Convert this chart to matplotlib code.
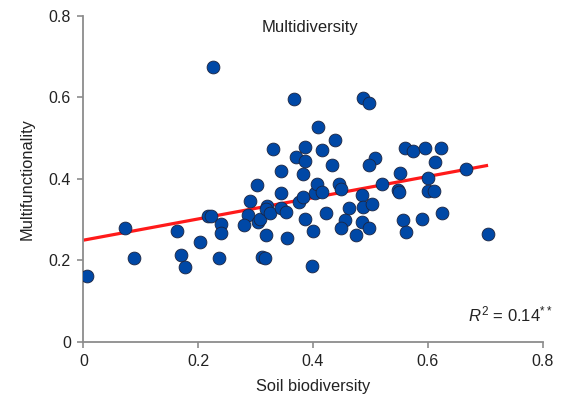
import matplotlib
matplotlib.use('Agg')
import matplotlib.pyplot as plt
import numpy as np

plt.rcParams['font.family'] = ['Liberation Sans', 'DejaVu Sans']
plt.rcParams['mathtext.fontset'] = 'custom'
plt.rcParams['mathtext.rm'] = 'Liberation Sans'
plt.rcParams['mathtext.it'] = 'Liberation Sans:italic'

# Soil biodiversity vs multifunctionality
soil_biodiversity = [
    0.006, 0.073, 0.089, 0.164, 0.170, 0.177, 0.203, 0.217, 0.222, 0.226,
    0.240, 0.239, 0.236, 0.302, 0.290, 0.287, 0.280, 0.304, 0.308, 0.320,
    0.318, 0.325, 0.318, 0.312, 0.317, 0.344, 0.344, 0.353, 0.354, 0.376,
    0.382, 0.386, 0.400, 0.399, 0.404, 0.407, 0.367, 0.331, 0.386, 0.371,
    0.386, 0.344, 0.383, 0.409, 0.415, 0.488, 0.497, 0.438, 0.433, 0.508,
    0.498, 0.560, 0.574, 0.596, 0.623, 0.612, 0.552, 0.600, 0.667, 0.521,
    0.446, 0.448, 0.415, 0.485, 0.548, 0.549, 0.601, 0.610, 0.423, 0.463,
    0.488, 0.502, 0.455, 0.449, 0.485, 0.497, 0.475, 0.556, 0.562, 0.590,
    0.625, 0.705,
]
multifunctionality = [
    0.161, 0.279, 0.204, 0.272, 0.213, 0.183, 0.244, 0.308, 0.308, 0.675,
    0.289, 0.267, 0.206, 0.384, 0.345, 0.312, 0.286, 0.294, 0.302, 0.334,
    0.326, 0.315, 0.262, 0.207, 0.206, 0.364, 0.328, 0.318, 0.254, 0.342,
    0.356, 0.300, 0.272, 0.186, 0.365, 0.386, 0.595, 0.474, 0.478, 0.453,
    0.444, 0.420, 0.412, 0.528, 0.471, 0.598, 0.585, 0.495, 0.434, 0.452,
    0.433, 0.475, 0.467, 0.475, 0.475, 0.440, 0.413, 0.402, 0.424, 0.388,
    0.388, 0.376, 0.367, 0.360, 0.373, 0.368, 0.369, 0.370, 0.316, 0.329,
    0.330, 0.337, 0.299, 0.278, 0.294, 0.278, 0.262, 0.299, 0.270, 0.302,
    0.316, 0.264,
]

# fitted regression line
fit_x = [0.0, 0.705]
fit_y = [0.249, 0.433]

fig = plt.figure(figsize=(5.77, 4.03), dpi=100)
ax = fig.add_axes([0.1444, 0.1526, 0.796, 0.8077])

ax.plot(fit_x, fit_y, color='#ff1a1a', lw=2.3, zorder=2, solid_capstyle='butt')
ax.scatter(soil_biodiversity, multifunctionality, s=85, color='#0048a6',
           edgecolor='#1c2440', linewidth=0.6, zorder=3)

ax.set_xlim(0, 0.8)
ax.set_ylim(0, 0.8)
ax.set_xticks([0, 0.2, 0.4, 0.6, 0.8])
ax.set_yticks([0, 0.2, 0.4, 0.6, 0.8])
ax.set_xticklabels(['0', '0.2', '0.4', '0.6', '0.8'])
ax.set_yticklabels(['0', '0.2', '0.4', '0.6', '0.8'])

for side in ['top', 'right']:
    ax.spines[side].set_visible(False)
for side in ['left', 'bottom']:
    ax.spines[side].set_color('#8c8c8c')
    ax.spines[side].set_linewidth(1.3)
ax.tick_params(direction='out', length=4, width=1.2, color='#8c8c8c',
               labelsize=11.5, labelcolor='#222222', pad=5)

ax.set_xlabel('Soil biodiversity', fontsize=11.8, color='#222222', labelpad=7)
ax.set_ylabel('Multifunctionality', fontsize=11.8, color='#222222', labelpad=10)

ax.text(0.395, 0.772, 'Multidiversity', fontsize=12, ha='center', va='center',
        color='#222222')
ax.text(0.817, 0.066, r'$\it{R}^{2}$ = 0.14$^{**}$', fontsize=12, ha='right',
        va='center', color='#222222', clip_on=False)

fig.savefig('out.png', dpi=100)
